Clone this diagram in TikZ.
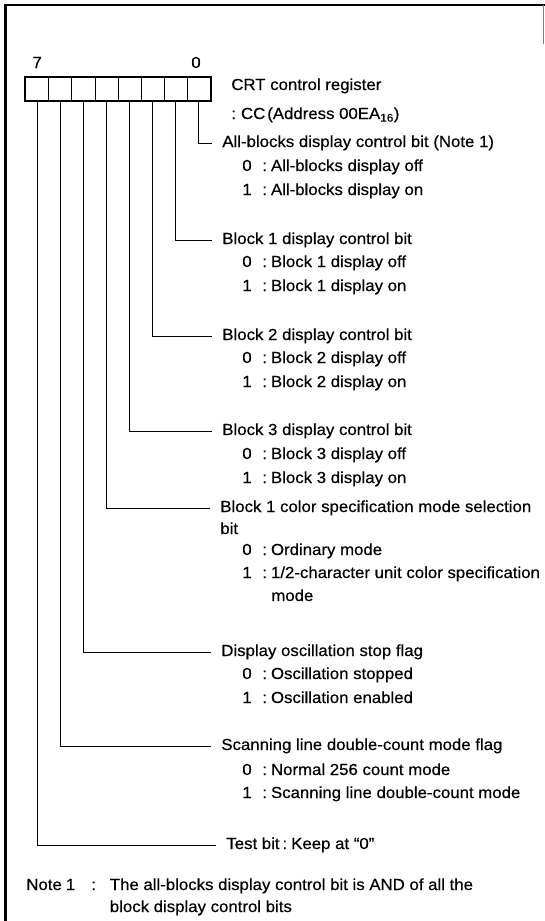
\documentclass[tikz,border=0pt]{standalone}
\usepackage{fontspec}
\setmainfont{Liberation Sans}[FakeStretch=1.05, FakeBold=0.4]
\newcommand{\optline}[2]{\makebox[20pt][l]{#1}:\hspace{4pt}#2}
\begin{document}
\begin{tikzpicture}[x=1pt, y=-1pt, line width=0.7pt,
    every node/.style={inner sep=0pt, font=\fontsize{16}{19}\selectfont},
    bitcell/.style={draw, minimum width=23.1pt, minimum height=24pt},
    bitname/.style={anchor=base west, inner xsep=10pt},
    txt/.style={anchor=base west}]
    \useasboundingbox (0,0) rectangle (545,921);

    % frame
    \draw[line width=2.4pt] (5.5,921) -- (5.5,5) -- (545,5);
    \draw[line width=0.5pt, gray] (543,5) -- (543,44);

    % register
    \foreach \i in {0,...,7}
        \node[bitcell] (cell\i) at (198.8-23.1*\i,89) {};
    \draw[line width=2pt] (cell7.north west) rectangle (cell0.south east);
    \node[anchor=base] (msb) at (37.1,68) {7};
    \node[anchor=base] (lsb) at (196,68) {0};
    \node[txt] (regname) at (231,90) {CRT control register};
    \node[txt] (regaddr) at (231,119) {:\hspace{5pt}CC\hspace{2pt}(Address 00EA\textsubscript{16})};

    % bit 0
    \node[bitname] (b0) at (212,147) {All-blocks display control bit (Note 1)};
    \node[txt] (b0z) at (242,171) {\optline{0}{All-blocks display off}};
    \node[txt] (b0o) at (242,195) {\optline{1}{All-blocks display on}};

    % bit 1
    \node[bitname] (b1) at (212,244) {Block 1 display control bit};
    \node[txt] (b1z) at (242,267) {\optline{0}{Block 1 display off}};
    \node[txt] (b1o) at (242,291) {\optline{1}{Block 1 display on}};

    % bit 2
    \node[bitname] (b2) at (212,340) {Block 2 display control bit};
    \node[txt] (b2z) at (242,363) {\optline{0}{Block 2 display off}};
    \node[txt] (b2o) at (242,387) {\optline{1}{Block 2 display on}};

    % bit 3
    \node[bitname] (b3) at (212,435) {Block 3 display control bit};
    \node[txt] (b3z) at (242,459) {\optline{0}{Block 3 display off}};
    \node[txt] (b3o) at (242,483) {\optline{1}{Block 3 display on}};

    % bit 4
    \node[bitname] (b4) at (210,512) {Block 1 color specification mode selection};
    \node[txt] (b4b) at (220,534) {bit};
    \node[txt] (b4z) at (242,555) {\optline{0}{Ordinary mode}};
    \node[txt] (b4o) at (242,578) {\optline{1}{1/2-character unit color specification}};
    \node[txt] (b4m) at (271,601) {mode};

    % bit 5
    \node[bitname] (b5) at (211,656) {Display oscillation stop flag};
    \node[txt] (b5z) at (242,679) {\optline{0}{Oscillation stopped}};
    \node[txt] (b5o) at (242,703) {\optline{1}{Oscillation enabled}};

    % bit 6
    \node[bitname] (b6) at (211,750) {Scanning line double-count mode flag};
    \node[txt] (b6z) at (242,775) {\optline{0}{Normal 256 count mode}};
    \node[txt] (b6o) at (242,798) {\optline{1}{Scanning line double-count mode}};

    % bit 7
    \node[bitname] (b7) at (216,849) {Test bit\hspace{3pt}:\hspace{4pt}Keep at ``0''};

    \foreach \i in {0,...,7}
        \draw (cell\i.south) |- (b\i.west);

    % note
    \node[txt] (notehead) at (26,890) {\makebox[65pt][l]{Note\hspace{4pt}1}:};
    \node[txt] (notetxt) at (109.5,890) {The all-blocks display control bit is AND of all the};
    \node[txt] (notetxtb) at (109.5,912) {block display control bits};
\end{tikzpicture}
\end{document}
